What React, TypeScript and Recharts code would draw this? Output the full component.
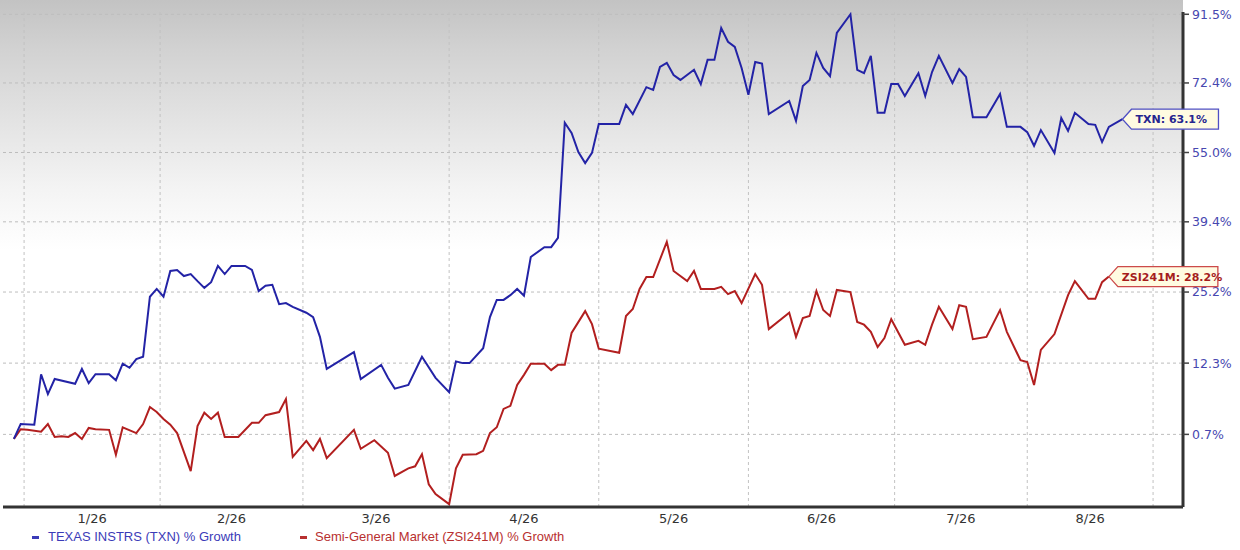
import React from 'react';
import { LineChart, Line, XAxis, YAxis, CartesianGrid, ReferenceLine } from 'recharts';

// month buckets on the trading-day axis
const monthLabels = ['1/26', '2/26', '3/26', '4/26', '5/26', '6/26', '7/26', '8/26'];
const monthStarts = [1.5, 21.5, 42.5, 64, 86, 108, 129.5, 149, 167.5];
const growthTicks = [0.7, 12.3, 25.2, 39.4, 55.0, 72.4, 91.5];

const txnDays = [
  0, 1, 3, 4, 5, 6, 9, 10, 11, 12, 14, 15, 16, 17, 18, 19, 20, 21, 22, 23, 24, 25, 26, 27, 28, 29, 30, 31, 32, 34, 35,
  36, 37, 38, 39, 40, 41, 43, 44, 45, 46, 50, 51, 54, 55, 56, 58, 60, 62, 64, 65, 66, 67, 69, 70, 71, 72, 73, 74, 75,
  76, 78, 79, 80, 81, 82, 83, 84, 85, 86, 89, 90, 91, 93, 94, 95, 96, 97, 98, 100, 101, 102, 103, 104, 105, 106, 107,
  108, 109, 110, 111, 114, 115, 116, 117, 118, 119, 120, 121, 123, 124, 125, 126, 127, 128, 129, 130, 131, 133, 134,
  135, 136, 138, 139, 140, 141, 143, 145, 146, 148, 149, 150, 151, 153, 154, 155, 156, 158, 159, 160, 161, 163,
];
const txnGrowth = [
  0.0, 2.3, 2.2, 10.4, 7.1, 9.6, 8.8, 11.3, 8.9, 10.4, 10.4, 9.4, 12.2, 11.5, 13.0, 13.4, 24.3, 25.8, 24.3, 29.3, 29.5,
  28.3, 28.7, 27.3, 26.0, 27.1, 30.3, 28.7, 30.3, 30.3, 29.5, 25.4, 26.4, 26.6, 22.9, 23.1, 22.4, 21.3, 20.5, 16.9,
  11.3, 14.2, 9.6, 12.0, 9.8, 8.0, 8.6, 13.4, 9.8, 7.4, 12.6, 12.3, 12.3, 14.9, 20.5, 23.7, 23.7, 24.6, 25.8, 24.5,
  32.1, 34.1, 34.1, 36.0, 62.2, 59.7, 55.1, 52.5, 54.9, 61.9, 61.9, 66.7, 64.4, 71.3, 70.6, 76.7, 77.8, 74.5, 73.2,
  75.9, 72.1, 78.6, 78.6, 87.5, 83.6, 82.2, 76.4, 69.3, 78.0, 77.6, 64.4, 67.7, 62.7, 71.6, 73.2, 80.5, 76.4, 74.2,
  86.1, 91.5, 75.9, 75.0, 79.7, 64.7, 64.7, 72.1, 72.1, 69.0, 75.0, 69.0, 75.3, 79.7, 72.4, 76.1, 74.0, 63.6, 63.6,
  69.5, 61.2, 61.2, 59.9, 56.6, 60.4, 54.9, 63.4, 60.2, 64.7, 61.9, 61.7, 57.5, 61.2, 63.1,
];

const zsiDays = [
  0, 1, 2, 4, 5, 6, 7, 8, 9, 10, 11, 12, 14, 15, 16, 18, 19, 20, 21, 22, 23, 24, 26, 27, 28, 29, 30, 31, 33, 35, 36,
  37, 39, 40, 41, 43, 44, 45, 46, 50, 51, 53, 55, 56, 58, 59, 60, 61, 62, 64, 65, 66, 68, 69, 70, 71, 72, 73, 74, 75,
  76, 78, 79, 80, 81, 82, 84, 85, 86, 89, 90, 91, 92, 93, 94, 96, 97, 99, 100, 101, 103, 104, 105, 106, 107, 109, 110,
  111, 114, 115, 116, 117, 118, 119, 120, 121, 123, 124, 125, 126, 127, 128, 129, 131, 133, 134, 135, 136, 138, 139,
  140, 141, 143, 145, 146, 148, 149, 150, 151, 153, 155, 156, 158, 159, 160, 161,
];
const zsiGrowth = [
  0.0, 1.5, 1.4, 1.1, 2.3, 0.3, 0.4, 0.3, 0.9, 0.0, 1.7, 1.5, 1.4, -2.4, 1.8, 0.9, 2.3, 5.0, 4.2, 3.1, 2.2, 0.9, -4.8,
  2.0, 4.1, 3.1, 4.1, 0.3, 0.3, 2.5, 2.5, 3.7, 4.2, 6.3, -2.7, -0.3, -1.7, 0.0, -2.9, 1.4, -1.5, -0.2, -2.1, -5.5, -4.4,
  -4.1, -2.3, -6.7, -8.1, -9.5, -4.4, -2.4, -2.3, -1.8, 0.9, 1.8, 4.7, 5.2, 8.6, 10.3, 12.2, 12.2, 11.1, 12.0, 12.0,
  17.6, 21.6, 19.2, 14.8, 14.1, 20.7, 22.0, 25.8, 28.1, 28.1, 35.2, 29.3, 27.3, 29.3, 25.8, 25.8, 26.2, 24.8, 25.4,
  23.1, 28.7, 26.6, 18.3, 21.3, 16.9, 20.3, 20.7, 25.4, 21.8, 20.7, 25.6, 25.2, 19.6, 19.1, 17.8, 15.1, 16.7, 20.1,
  15.5, 16.2, 15.5, 19.1, 22.4, 18.3, 22.7, 22.4, 16.5, 16.9, 21.8, 17.8, 12.8, 12.5, 8.6, 14.6, 17.4, 24.6, 27.3,
  23.9, 23.9, 27.1, 28.2,
];

// growth is plotted as a growth factor on a log scale
const toFactor = (g: number) => 1 + g / 100;
const txnData = txnDays.map((day, i) => ({ day, factor: toFactor(txnGrowth[i]) }));
const zsiData = zsiDays.map((day, i) => ({ day, factor: toFactor(zsiGrowth[i]) }));
const monthMid = monthLabels.map((_, i) => (monthStarts[i] + monthStarts[i + 1]) / 2);
const factorTicks = growthTicks.map(toFactor);

const TXN_BLUE = '#2323a6';
const ZSI_RED = '#b21f1f';

function endLabel(lastIndex: number, text: string, border: string, color: string, boxWidth: number) {
  return (props: any) => {
    if (props.index !== lastIndex) return null;
    const x = Number(props.x);
    const y = Number(props.y);
    const h = 10;
    const pts = `${x},${y} ${x + 9},${y - h} ${x + boxWidth},${y - h} ${x + boxWidth},${y + h} ${x + 9},${y + h}`;
    return (
      <g key={text}>
        <polygon points={pts} fill="#fffbe1" stroke={border} strokeWidth={1.3} />
        <text x={x + 13} y={y} dy="0.36em" fill={color} fontSize={11} fontWeight="bold" fontFamily="DejaVu Sans">
          {text}
        </text>
      </g>
    );
  };
}

export default function App() {
  const txnLast = txnGrowth[txnGrowth.length - 1];
  const zsiLast = zsiGrowth[zsiGrowth.length - 1];

  return (
    <div style={{ position: 'absolute', left: 0, top: 0, width: 1240, height: 550, background: '#fff', overflow: 'hidden' }}>
      <div
        style={{
          position: 'absolute',
          left: 0,
          top: 0,
          width: 1183,
          height: 507,
          background: 'linear-gradient(to bottom, #c3c3c3 0px, #d2d2d2 50px, #e3e3e3 120px, #f4f4f4 190px, #ffffff 250px, #ffffff 100%)',
        }}
      />
      <div style={{ position: 'absolute', left: 0, top: 0 }}>
        <LineChart width={1240} height={550} margin={{ top: 12, right: 0, bottom: 0, left: 3 }}>
          <XAxis
            xAxisId="months"
            type="number"
            dataKey="day"
            domain={[-1.6, 171.9]}
            ticks={monthMid}
            interval={0}
            tickFormatter={(v: number) => monthLabels[monthMid.indexOf(v)] ?? ''}
            tick={{ fill: '#333', fontSize: 13, fontFamily: 'DejaVu Sans' }}
            tickLine={false}
            tickSize={6}
            tickMargin={1}
            axisLine={{ stroke: '#333', strokeWidth: 3 }}
            height={43}
          />
          <YAxis
            yAxisId="g"
            orientation="right"
            type="number"
            scale="log"
            domain={[0.9011, 1.9217]}
            ticks={factorTicks}
            interval={0}
            tickFormatter={(f: number) => `${((f - 1) * 100).toFixed(1)}%`}
            tick={{ fill: '#4747b0', fontSize: 12.5, fontFamily: 'DejaVu Sans' }}
            tickLine={{ stroke: '#444', strokeWidth: 1.5 }}
            tickSize={6}
            tickMargin={3}
            axisLine={{ stroke: '#333', strokeWidth: 3 }}
            width={57}
          />
          <CartesianGrid xAxisId="months" yAxisId="g" stroke="#bdbdbd" strokeDasharray="3 3" vertical={false} syncWithTicks />
          {monthStarts.map((m) => (
            <ReferenceLine key={m} x={m} xAxisId="months" yAxisId="g" stroke="#c2c2c2" strokeDasharray="3 3" />
          ))}
          <Line
            xAxisId="months"
            yAxisId="g"
            data={zsiData}
            dataKey="factor"
            type="linear"
            stroke={ZSI_RED}
            strokeWidth={2}
            dot={false}
            isAnimationActive={false}
            label={endLabel(zsiData.length - 1, `ZSI241M: ${zsiLast.toFixed(1)}%`, '#cc4a4a', '#a51d1d', 109)}
          />
          <Line
            xAxisId="months"
            yAxisId="g"
            data={txnData}
            dataKey="factor"
            type="linear"
            stroke={TXN_BLUE}
            strokeWidth={2}
            dot={false}
            isAnimationActive={false}
            label={endLabel(txnData.length - 1, `TXN: ${txnLast.toFixed(1)}%`, '#4f4fc4', '#26268f', 96)}
          />
        </LineChart>
      </div>
      <div style={{ position: 'absolute', top: 529, left: 32, fontFamily: 'Liberation Sans', fontSize: 13, lineHeight: '16px', color: '#3b3bb8', whiteSpace: 'nowrap' }}>
        <span style={{ display: 'inline-block', width: 7, height: 3, background: '#3b3bb8', verticalAlign: 'middle', marginRight: 9 }} />
        TEXAS INSTRS (TXN) % Growth
      </div>
      <div style={{ position: 'absolute', top: 529, left: 300, fontFamily: 'Liberation Sans', fontSize: 13, lineHeight: '16px', color: '#b83030', whiteSpace: 'nowrap' }}>
        <span style={{ display: 'inline-block', width: 7, height: 3, background: '#b83030', verticalAlign: 'middle', marginRight: 8 }} />
        Semi-General Market (ZSI241M) % Growth
      </div>
    </div>
  );
}
